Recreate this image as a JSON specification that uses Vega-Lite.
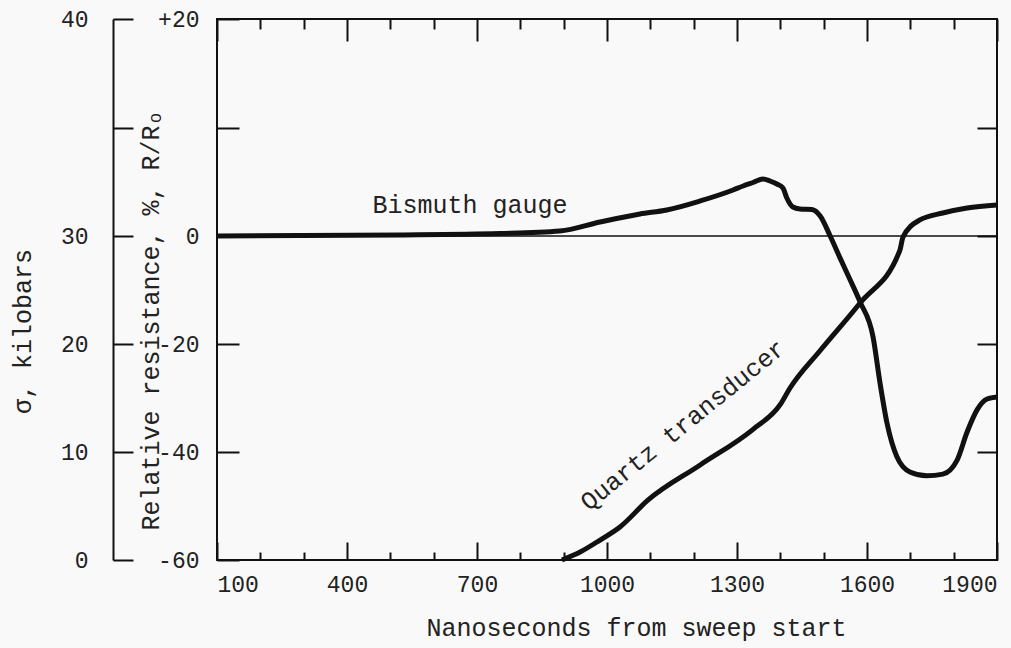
{
  "$schema": "https://vega.github.io/schema/vega-lite/v6.json",
  "width": 780,
  "height": 541,
  "autosize": {"type": "none"},
  "padding": {"left": 217, "top": 19, "right": 14, "bottom": 88},
  "background": "#f9f9f9",
  "config": {
    "view": {"stroke": "#111", "strokeWidth": 2},
    "axis": {
      "labelFont": "Liberation Mono",
      "titleFont": "Liberation Mono",
      "labelColor": "#222",
      "titleColor": "#222",
      "tickColor": "#111",
      "domainColor": "#111",
      "tickWidth": 2,
      "domainWidth": 2,
      "grid": false,
      "titleFontWeight": "normal",
      "labelFontSize": 23,
      "titleFontSize": 25,
      "labelOverlap": false,
      "labelFlush": false
    }
  },
  "datasets": {
    "bismuth": [
      {"ns": 100, "r": 0},
      {"ns": 291, "r": 0.05},
      {"ns": 522, "r": 0.1},
      {"ns": 753, "r": 0.23},
      {"ns": 891, "r": 0.46},
      {"ns": 984, "r": 1.29},
      {"ns": 1076, "r": 2.03},
      {"ns": 1138, "r": 2.4},
      {"ns": 1215, "r": 3.23},
      {"ns": 1291, "r": 4.24},
      {"ns": 1314, "r": 4.61},
      {"ns": 1337, "r": 4.93},
      {"ns": 1360, "r": 5.25},
      {"ns": 1376, "r": 5.07},
      {"ns": 1392, "r": 4.79},
      {"ns": 1406, "r": 4.42},
      {"ns": 1415, "r": 3.5},
      {"ns": 1429, "r": 2.67},
      {"ns": 1445, "r": 2.49},
      {"ns": 1473, "r": 2.44},
      {"ns": 1492, "r": 1.84},
      {"ns": 1515, "r": 0},
      {"ns": 1538, "r": -4.1},
      {"ns": 1561, "r": -8.1},
      {"ns": 1584, "r": -12.2},
      {"ns": 1614, "r": -18.7},
      {"ns": 1630, "r": -27.2},
      {"ns": 1646, "r": -34.6},
      {"ns": 1669, "r": -40.9},
      {"ns": 1699, "r": -43.7},
      {"ns": 1738, "r": -44.4},
      {"ns": 1775, "r": -44.1},
      {"ns": 1808, "r": -41.5},
      {"ns": 1831, "r": -36.3},
      {"ns": 1854, "r": -32.2},
      {"ns": 1877, "r": -30.2},
      {"ns": 1900, "r": -29.8}
    ],
    "quartz": [
      {"ns": 896, "kbar": 0},
      {"ns": 938, "kbar": 0.74},
      {"ns": 984, "kbar": 1.85},
      {"ns": 1030, "kbar": 3.06},
      {"ns": 1095, "kbar": 5.56},
      {"ns": 1215, "kbar": 8.8},
      {"ns": 1337, "kbar": 12.1},
      {"ns": 1400, "kbar": 14.4},
      {"ns": 1422, "kbar": 15.9},
      {"ns": 1492, "kbar": 19.4},
      {"ns": 1584, "kbar": 23.8},
      {"ns": 1676, "kbar": 28.7},
      {"ns": 1683, "kbar": 29.9},
      {"ns": 1722, "kbar": 30.74},
      {"ns": 1775, "kbar": 31.06},
      {"ns": 1831, "kbar": 31.29},
      {"ns": 1900, "kbar": 31.43}
    ]
  },
  "resolve": {
    "scale": {"y": "independent"},
    "axis": {"x": "independent", "y": "independent"}
  },
  "layer": [
    {
      "data": {"values": [{}]},
      "mark": {"type": "rule", "stroke": "#111", "strokeWidth": 1.6},
      "encoding": {
        "x": {
          "datum": 100,
          "type": "quantitative",
          "scale": {"domain": [100, 1900], "nice": false, "zero": false},
          "axis": {"orient": "top", "values": [100, 400, 700, 1000, 1300, 1600, 1900], "tickSize": -22, "labels": false, "domain": false, "title": null}
        },
        "x2": {"datum": 1900},
        "y": {
          "datum": 0,
          "type": "quantitative",
          "scale": {"type": "linear", "domain": [-60, 0, 20], "range": [541, 217, 0], "nice": false, "zero": false},
          "axis": {
            "orient": "left",
            "values": [-60, -40, -20, 0, 10, 20],
            "tickSize": -22,
            "labelPadding": 40,
            "labelBaseline": "middle",
            "domain": false,
            "labelExpr": "datum.value == 20 ? '+20' : datum.value == 10 ? '' : datum.value == 0 ? '0' : '-' + abs(datum.value)",
            "title": "Relative resistance, %, R/Rₒ",
            "titleX": -67,
            "titleY": 301,
            "titleAngle": -90,
            "titleAlign": "center",
            "titleBaseline": "middle"
          }
        }
      }
    },
    {
      "data": {"name": "bismuth"},
      "mark": {"type": "line", "stroke": "#111", "strokeWidth": 5, "interpolate": "monotone"},
      "encoding": {
        "x": {
          "field": "ns",
          "type": "quantitative",
          "scale": {"domain": [100, 1900], "nice": false, "zero": false},
          "axis": {
            "orient": "bottom",
            "values": [100, 400, 700, 1000, 1300, 1600, 1900],
            "format": "d",
            "tickSize": -18,
            "labelPadding": 31,
            "labelFlush": true,
            "domain": false,
            "title": "Nanoseconds from sweep start",
            "titleX": 419,
            "titleY": 67,
            "titleAlign": "center",
            "titleBaseline": "middle"
          }
        },
        "y": {
          "field": "r",
          "type": "quantitative",
          "scale": {"type": "linear", "domain": [-60, 0, 20], "range": [541, 217, 0], "nice": false, "zero": false},
          "axis": {"orient": "right", "values": [-40, -20, 0, 10], "tickSize": -20, "labels": false, "domain": false, "title": null}
        }
      }
    },
    {
      "data": {"name": "quartz"},
      "mark": {"type": "line", "stroke": "#111", "strokeWidth": 5, "interpolate": "monotone"},
      "encoding": {
        "x": {
          "field": "ns",
          "type": "quantitative",
          "scale": {"domain": [100, 1900], "nice": false, "zero": false},
          "axis": {"orient": "bottom", "values": [200, 300, 500, 600, 800, 900, 1100, 1200, 1400, 1500, 1700, 1800], "tickSize": -8, "labels": false, "domain": false, "title": null}
        },
        "y": {
          "field": "kbar",
          "type": "quantitative",
          "scale": {"type": "linear", "domain": [0, 30, 40], "range": [541, 217, 0], "nice": false, "zero": false},
          "axis": {
            "orient": "left",
            "offset": 104,
            "values": [0, 10, 20, 30, 35, 40],
            "tickSize": -20,
            "labelPadding": 45,
            "labelBaseline": "middle",
            "domain": true,
            "labelExpr": "datum.value == 35 ? '' : '' + datum.value",
            "title": "σ, kilobars",
            "titleX": -91,
            "titleY": 312,
            "titleAngle": -90,
            "titleAlign": "center",
            "titleBaseline": "middle"
          }
        }
      }
    },
    {
      "data": {"values": [{"label": "Bismuth gauge", "ns": 684, "r": 2.9}]},
      "mark": {"type": "text", "font": "Liberation Mono", "fontSize": 25, "color": "#222", "align": "center", "baseline": "middle"},
      "encoding": {
        "x": {
          "field": "ns",
          "type": "quantitative",
          "scale": {"domain": [100, 1900], "nice": false, "zero": false},
          "axis": {"orient": "top", "values": [200, 300, 500, 600, 800, 900, 1100, 1200, 1400, 1500, 1700, 1800], "tickSize": -10, "labels": false, "domain": false, "title": null}
        },
        "y": {
          "field": "r",
          "type": "quantitative",
          "scale": {"type": "linear", "domain": [-60, 0, 20], "range": [541, 217, 0], "nice": false, "zero": false},
          "axis": null
        },
        "text": {"field": "label"}
      }
    },
    {
      "data": {"values": [{"label": "Quartz transducer", "ns": 1175, "r": -35}]},
      "mark": {"type": "text", "font": "Liberation Mono", "fontSize": 25, "color": "#222", "align": "center", "baseline": "middle", "angle": -39},
      "encoding": {
        "x": {
          "field": "ns",
          "type": "quantitative",
          "scale": {"domain": [100, 1900], "nice": false, "zero": false},
          "axis": null
        },
        "y": {
          "field": "r",
          "type": "quantitative",
          "scale": {"type": "linear", "domain": [-60, 0, 20], "range": [541, 217, 0], "nice": false, "zero": false},
          "axis": null
        },
        "text": {"field": "label"}
      }
    }
  ]
}
